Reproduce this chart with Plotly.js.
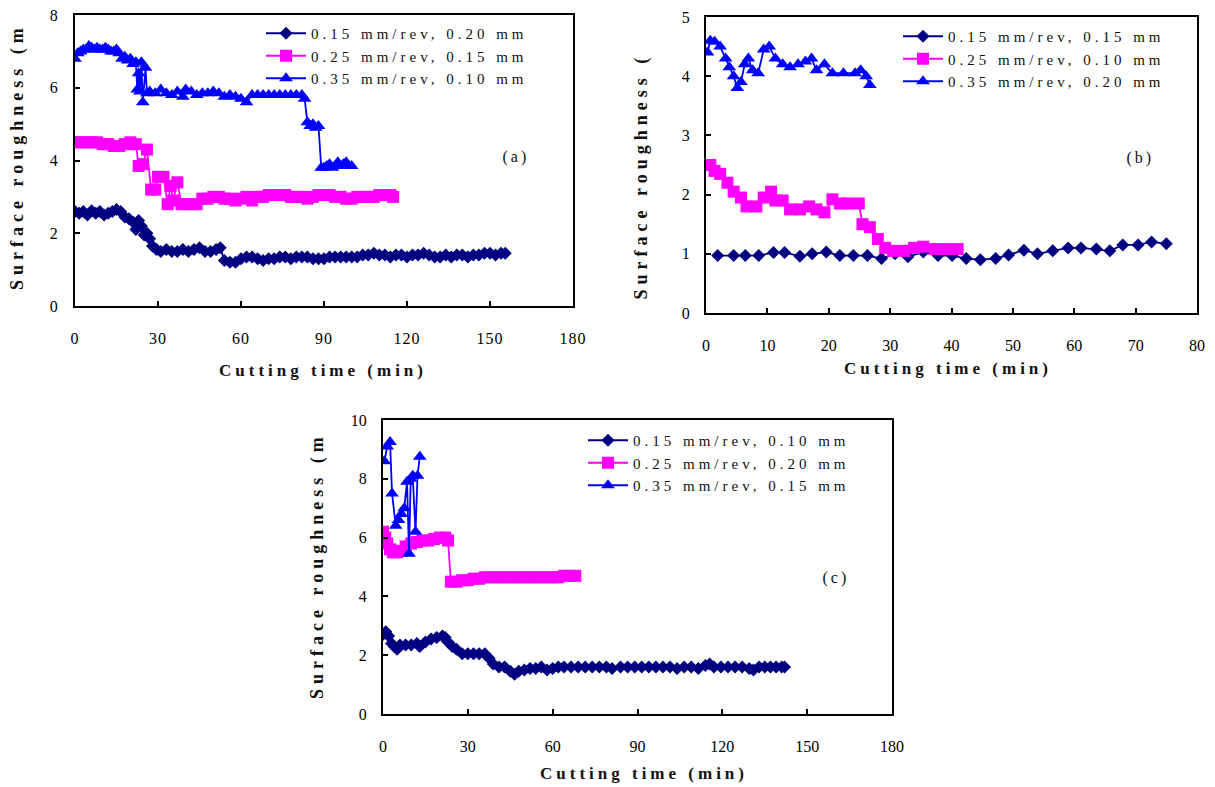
<!DOCTYPE html>
<html>
<head>
<meta charset="utf-8">
<script src="https://cdn.plot.ly/plotly-3.0.1.min.js"></script>
<style>
  html, body { margin: 0; padding: 0; background: #fff; }
  #chart { width: 1215px; height: 787px; }
  .infolayer g[class^="legend"] .scrollbox { clip-path: none !important; }
  .infolayer g[class^="legend"] text { letter-spacing: 4px !important; }
  .annotation .annotation-text { letter-spacing: 3px; }
  .annotation[data-index="3"] .annotation-text,
  .annotation[data-index="4"] .annotation-text,
  .annotation[data-index="5"] .annotation-text { letter-spacing: 4px; }
  .annotation[data-index="6"] .annotation-text,
  .annotation[data-index="7"] .annotation-text,
  .annotation[data-index="8"] .annotation-text { letter-spacing: 5px; }
  .xtick text, .ytick text { letter-spacing: 1px; }
</style>
</head>
<body>
<div id="chart"></div>
<script>
// ---------- Panel (a) ----------
const timeA1 = [0,1.5,3,4.5,6,7.5,9,10.5,12,13.5,15,16.5,18,19.5,21,22,23,24,25,26,27,28,29.5,31,33,35,37,39,41,43,45,47,49,51,52.5,54,56,58,60,62,64,66,68,70,72,74,76,78,80,82,84,86,88,90,92,94,96,98,100,102,104,106,108,110,112,114,116,118,120,122,124,126,128,130,132,134,136,138,140,142,144,146,148,150,152,154,155.5];
const raA1   = [2.6,2.55,2.6,2.5,2.62,2.55,2.6,2.5,2.55,2.6,2.65,2.6,2.45,2.4,2.3,2.1,2.35,2.2,1.95,2.0,1.85,1.65,1.55,1.5,1.55,1.5,1.5,1.55,1.5,1.55,1.6,1.5,1.5,1.55,1.6,1.25,1.2,1.2,1.3,1.35,1.35,1.3,1.25,1.3,1.3,1.35,1.35,1.3,1.35,1.35,1.35,1.3,1.3,1.3,1.35,1.35,1.35,1.35,1.35,1.35,1.4,1.4,1.45,1.4,1.4,1.35,1.4,1.4,1.35,1.4,1.4,1.45,1.4,1.35,1.35,1.4,1.35,1.4,1.4,1.35,1.4,1.4,1.45,1.45,1.4,1.45,1.45];

const timeA2 = [0,2,4,6,8,10,12,14,16,18,20,22,23,24.5,26,27.5,29,30,32,33.5,34.5,35.5,37,38.5,40,42,44,46,48,50,52,54,56,58,60,62,64,66,68,70,72,74,76,78,80,82,84,86,88,90,92,94,96,98,100,102,104,106,108,110,112,114,115];
const raA2   = [4.5,4.5,4.5,4.5,4.5,4.45,4.45,4.4,4.4,4.45,4.5,4.45,3.85,3.9,4.3,3.2,3.2,3.55,3.55,2.8,3.3,2.9,3.4,2.8,2.8,2.8,2.8,2.95,2.95,3.0,3.0,2.95,2.95,2.9,2.95,3.0,2.9,3.0,3.0,3.05,3.05,3.05,3.05,3.0,3.0,3.0,2.95,3.0,3.05,3.05,3.05,3.0,3.0,2.95,2.95,3.0,3.0,3.0,3.0,3.05,3.05,3.05,3.0];

const timeA3 = [0,1,2,3,4,5,6,7,8,9,10,11,12,13,14,15,16,17,18,19,20,21,22,22.5,23,23.5,24,24.5,25.5,26,27,29,31,33,35,37,39,40,42,44,46,48,50,52,54,56,58,60,62,64,66,68,70,72,74,76,78,80,82,83,84,85,86,87,88,89,90,91,92,93,94,95,96,97,98,99,100];
const raA3   = [6.8,6.95,7.0,7.05,7.05,7.15,7.1,7.05,7.1,7.05,7.05,7.1,7.05,7.0,7.0,7.05,6.95,6.8,6.85,6.75,6.8,6.65,6.7,5.95,6.4,5.9,6.7,5.6,6.55,5.85,5.9,5.85,5.95,5.85,5.8,5.9,5.75,5.95,5.9,5.8,5.85,5.85,5.9,5.85,5.75,5.8,5.75,5.7,5.6,5.8,5.8,5.8,5.8,5.8,5.8,5.8,5.8,5.8,5.8,5.7,5.05,4.95,5.0,4.9,4.95,3.8,3.8,3.85,3.9,3.8,3.85,3.95,3.85,3.9,3.95,3.85,3.85];

// ---------- Panel (b) ----------
const timeB1 = [1.9,4.5,6.4,8.6,11.0,12.8,15.3,17.3,19.6,21.8,24.0,26.3,28.6,30.8,32.9,35.4,37.8,40.1,42.4,44.7,47.2,49.3,51.8,54.0,56.5,59.0,61.1,63.6,65.8,67.9,70.4,72.6,75.0];
const raB1   = [0.97,0.97,0.97,0.97,1.02,1.02,0.96,1.0,1.03,0.97,0.97,0.97,0.92,1.0,0.95,1.03,0.97,0.97,0.92,0.90,0.92,0.98,1.06,1.0,1.05,1.1,1.1,1.08,1.05,1.15,1.15,1.2,1.17];

const timeB2 = [0.7,1.4,2.3,3.5,4.5,5.7,6.6,8.2,9.4,10.6,11.3,12.5,13.7,15.3,16.8,18.0,19.3,20.6,21.8,23.0,24.9,25.5,26.7,28.0,29.2,30.5,32.3,33.9,35.4,37.3,39.1,41.0];
const raB2   = [2.5,2.4,2.35,2.2,2.05,1.95,1.8,1.8,1.95,2.05,1.9,1.9,1.75,1.75,1.8,1.75,1.7,1.92,1.85,1.85,1.85,1.5,1.45,1.25,1.1,1.05,1.05,1.1,1.12,1.08,1.08,1.08];

const timeB3 = [0.25,0.7,1.4,2.3,3.2,3.8,4.5,5.1,5.7,6.3,6.9,7.6,8.5,9.4,10.3,11.3,12.5,13.7,15.0,16.2,17.2,18.0,19.3,20.6,22.4,24.3,25.2,26.1,26.7];
const raB3   = [4.4,4.6,4.58,4.5,4.3,4.15,4.0,3.8,3.9,4.2,4.3,4.1,4.05,4.45,4.5,4.3,4.2,4.15,4.2,4.25,4.3,4.1,4.2,4.05,4.05,4.05,4.1,4.0,3.85];

// ---------- Panel (c) ----------
const timeC1 = [0,1,2,3,4,5,6,8,10,12,13,15,17,19,21,22,23,24.5,26,28,30,32,34,36,37.5,39,41,43,45,46.5,48,50,52,54,56,58,60,62,64,66.5,69,71.5,74,76.5,79,81,84,86.5,89,91.5,94,96.5,99,101.5,104,106.5,109,111.5,114,115.5,117,119.5,122,124.5,127,129.5,131,133,135,137,139,141,142];
const raC1   = [2.7,2.8,2.65,2.4,2.3,2.2,2.35,2.35,2.35,2.4,2.3,2.45,2.55,2.6,2.65,2.6,2.45,2.3,2.2,2.05,2.05,2.05,2.05,2.05,1.9,1.7,1.6,1.6,1.45,1.35,1.45,1.5,1.55,1.55,1.6,1.5,1.55,1.6,1.6,1.6,1.6,1.6,1.6,1.6,1.6,1.55,1.6,1.6,1.6,1.6,1.6,1.6,1.6,1.6,1.55,1.6,1.6,1.55,1.65,1.7,1.6,1.6,1.6,1.6,1.6,1.55,1.5,1.6,1.6,1.6,1.6,1.6,1.6];

const timeC2 = [0,0.8,1.5,2.5,3.5,5,6.5,8,10,12,14,16,18,20,22,23,24,26,28,30,32,34,36,38,40,42,44,46,48,50,52,54,56,58,60,62,64,66,68];
const raC2   = [6.2,6.0,5.8,5.6,5.5,5.5,5.55,5.7,5.8,5.85,5.9,5.9,5.95,6.0,6.0,5.9,4.5,4.5,4.55,4.55,4.6,4.6,4.65,4.65,4.65,4.65,4.65,4.65,4.65,4.65,4.65,4.65,4.65,4.65,4.65,4.65,4.7,4.7,4.7];

const timeC3 = [0.5,1.5,2.5,3.2,4.5,5.5,6.5,7.5,8.5,9.2,9.8,10.5,11.5,12.2,13];
const raC3   = [8.6,9.1,9.25,7.5,6.4,6.6,6.8,7.0,7.9,5.45,8.0,8.1,6.2,8.1,8.75];

// ---------- Labels ----------
const legendA = ["0.15 mm/rev, 0.20 mm", "0.25 mm/rev, 0.15 mm", "0.35 mm/rev, 0.10 mm"];
const legendB = ["0.15 mm/rev, 0.15 mm", "0.25 mm/rev, 0.10 mm", "0.35 mm/rev, 0.20 mm"];
const legendC = ["0.15 mm/rev, 0.10 mm", "0.25 mm/rev, 0.20 mm", "0.35 mm/rev, 0.15 mm"];
const panelTags = ["(a)", "(b)", "(c)"];
const xTitle = "Cutting time (min)";
const yTitles = ["Surface roughness (m", "Surface roughness (", "Surface roughness (m"];

// ---------- Styles ----------
const colors = ["#000080", "#FF00FF", "#0000FF"];
const symbols = ["diamond", "square", "triangle-up"];
const msizes = [10, 12, 12];
const FONT = "Liberation Serif, Times New Roman, serif";

function tr(x, y, i, name, xa, ya, leg, grp) {
  return {
    x: x, y: y, name: name, type: "scatter", mode: "lines+markers",
    xaxis: xa, yaxis: ya, legend: leg, legendgroup: grp + i,
    line: { color: colors[i], width: 1.8 },
    marker: { color: colors[i], symbol: symbols[i], size: msizes[i], line: { width: 0 } }
  };
}

const data = [
  tr(timeA1, raA1, 0, legendA[0], "x", "y", "legend", "a"),
  tr(timeA2, raA2, 1, legendA[1], "x", "y", "legend", "a"),
  tr(timeA3, raA3, 2, legendA[2], "x", "y", "legend", "a"),
  tr(timeB1, raB1, 0, legendB[0], "x2", "y2", "legend2", "b"),
  tr(timeB2, raB2, 1, legendB[1], "x2", "y2", "legend2", "b"),
  tr(timeB3, raB3, 2, legendB[2], "x2", "y2", "legend2", "b"),
  tr(timeC1, raC1, 0, legendC[0], "x3", "y3", "legend3", "c"),
  tr(timeC2, raC2, 1, legendC[1], "x3", "y3", "legend3", "c"),
  tr(timeC3, raC3, 2, legendC[2], "x3", "y3", "legend3", "c")
];

const W = 1215, H = 787;
function px(v) { return v / W; }
function py(v) { return 1 - v / H; }

function xax(l, r, range, dtick) {
  return {
    domain: [px(l), px(r)], range: range, dtick: dtick, tick0: 0,
    showline: true, mirror: true, linecolor: "#000", linewidth: 2,
    ticks: "inside", ticklen: 5, tickwidth: 2, tickcolor: "#000",
    showgrid: false, zeroline: false, fixedrange: true,
    ticklabelstandoff: 17,
    tickfont: { family: FONT, size: 16, color: "#000" }
  };
}
function yax(t, b, range, dtick, anchor) {
  return {
    domain: [py(b), py(t)], range: range, dtick: dtick, tick0: 0, anchor: anchor,
    showline: true, mirror: true, linecolor: "#000", linewidth: 2,
    ticks: "inside", ticklen: 5, tickwidth: 2, tickcolor: "#000",
    showgrid: false, zeroline: false, fixedrange: true,
    ticklabelstandoff: 11,
    tickfont: { family: FONT, size: 16, color: "#000" }
  };
}
function leg(xl, yt) {
  return {
    x: px(xl), y: py(yt), xanchor: "left", yanchor: "top",
    bgcolor: "rgba(0,0,0,0)", borderwidth: 0, tracegroupgap: 0,
    font: { family: FONT, size: 15, color: "#111" }, itemwidth: 40
  };
}

const annotations = [
  { text: panelTags[0], x: px(516), y: py(157) },
  { text: panelTags[1], x: px(1140), y: py(158) },
  { text: panelTags[2], x: px(836), y: py(578) },
  { text: xTitle, x: px(323), y: py(370) },
  { text: xTitle, x: px(948), y: py(368) },
  { text: xTitle, x: px(644), y: py(773) },
  { text: yTitles[0], x: px(18), y: py(157), textangle: -90 },
  { text: yTitles[1], x: px(641), y: py(176), textangle: -90 },
  { text: yTitles[2], x: px(317), y: py(566), textangle: -90 }
].map((a, i) => Object.assign({
  xref: "paper", yref: "paper", showarrow: false, xanchor: "center", yanchor: "middle",
  font: i < 3 ? { family: FONT, size: 16, color: "#111" }
       : { family: FONT, size: i < 6 ? 17 : 18, color: "#111", weight: "bold" }
}, a));

const layout = {
  width: W, height: H, margin: { l: 0, r: 0, t: 0, b: 0 },
  paper_bgcolor: "#fff", plot_bgcolor: "#fff",
  showlegend: true,
  xaxis: xax(75, 573, [0, 180], 30), yaxis: yax(15, 306, [0, 8], 2, "x"),
  xaxis2: Object.assign(xax(706, 1197, [0, 80], 10), { anchor: "y2" }), yaxis2: yax(17, 313, [0, 5], 1, "x2"),
  xaxis3: Object.assign(xax(383, 892, [0, 180], 30), { anchor: "y3" }), yaxis3: yax(420, 714, [0, 10], 2, "x3"),
  legend: leg(261, 17), legend2: leg(898, 20), legend3: leg(583, 424),
  annotations: annotations
};

Plotly.newPlot("chart", data, layout, { staticPlot: true });
</script>
</body>
</html>
